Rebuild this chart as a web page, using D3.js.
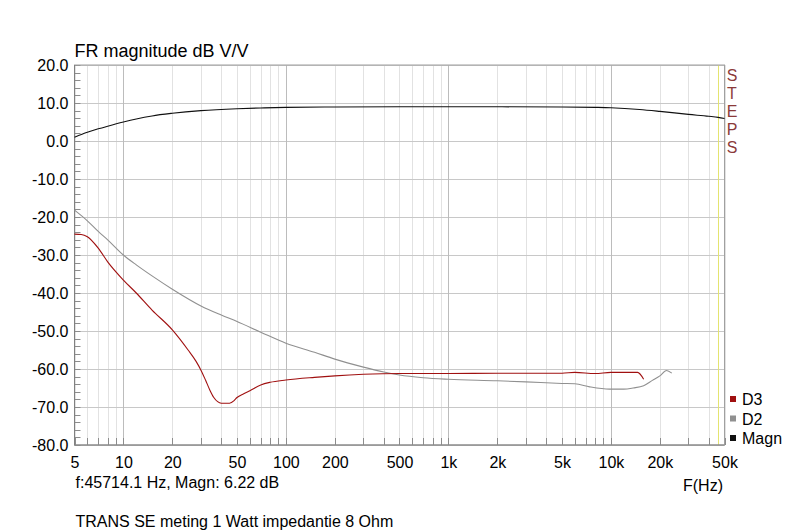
<!DOCTYPE html>
<html><head><meta charset="utf-8">
<script src="https://cdn.jsdelivr.net/npm/d3@7"></script>
<style>body{margin:0;background:#fff;} svg{display:block;font-family:"Liberation Sans",Arial,sans-serif;}</style>
</head><body><svg id="c" width="799" height="532"></svg>
<script>
const yTicks = [20,10,0,-10,-20,-30,-40,-50,-60,-70,-80];
const xTickVals = [5,10,20,50,100,200,500,1000,2000,5000,10000,20000,50000];
const xTickLabels = ["5","10","20","50","100","200","500","1k","2k","5k","10k","20k","50k"];
const magnF = [5,6,7,8,10,12,15,20,30,50,70,100,200,500,1000,2000,5000,8000,10000,15000,20000,30000,40000,45714.1,50000];
const magnV = [1.0,2.3,3.2,3.9,5.0,5.8,6.6,7.3,8.0,8.5,8.7,8.85,8.95,9.0,9.0,9.0,8.95,8.85,8.75,8.3,7.8,7.0,6.5,6.22,5.9];
const d2F = [5,6,7,8,10,12,15,20,30,40,50,70,100,150,200,300,400,500,700,1000,2000,3000,5000,6000,7400,9800,12000,13700,15900,18000,20000,22000,23700];
const d2V = [-18.2,-21.0,-23.8,-26.0,-30,-32.6,-35.5,-39,-43.4,-45.8,-47.5,-50.3,-53.2,-55.6,-57.4,-59.5,-60.8,-61.6,-62.3,-62.7,-63.1,-63.4,-63.8,-63.9,-64.7,-65.3,-65.3,-65.0,-64.4,-63.0,-61.8,-60.4,-61.1];
const d3F = [5,5.5,6,7,8,10,12,15,20,25,28,30,32,34,36,38,40,45,48,50,55,60,70,80,100,150,200,300,500,1000,2000,5000,6000,8000,10000,14600,15900];
const d3V = [-24.5,-24.6,-25.2,-28.2,-31.8,-36.6,-40,-44.5,-49.7,-55,-58,-60.3,-62.9,-65.5,-67.5,-68.6,-69,-69,-68.3,-67.5,-66.5,-65.7,-64.2,-63.5,-62.9,-62.2,-61.8,-61.4,-61.2,-61.2,-61.1,-61.1,-60.9,-61.2,-60.9,-60.9,-62.7];
const cursorF = 45714.1;
const legendNames = ["D3","D2","Magn"];
const legendColors = ["#a01010","#909090","#101010"];

const svg = d3.select("#c");
const L=74.5, R=724.5, T=65, B=445;
const x = d3.scaleLog().domain([5,50000]).range([L,R]);
const y = d3.scaleLinear().domain([-80,20]).range([B,T]);

const minor=[];
[1,10,100,1000,10000].forEach(dec=>{for(let m=1;m<10;m++){const f=m*dec; if(f>=5&&f<=50000) minor.push(f);}});
const g=svg.append("g");
g.selectAll("line.mv").data(minor.filter(f=>![10,100,1000,10000].includes(f))).enter().append("line")
 .attr("x1",d=>Math.round(x(d))+0.5).attr("x2",d=>Math.round(x(d))+0.5).attr("y1",T).attr("y2",B)
 .attr("stroke","#e2e2e2").attr("stroke-width",1);
g.selectAll("line.hg").data(yTicks).enter().append("line")
 .attr("x1",L).attr("x2",R).attr("y1",d=>Math.round(y(d))+0.5).attr("y2",d=>Math.round(y(d))+0.5)
 .attr("stroke","#c8c8c8").attr("stroke-width",1);
g.selectAll("line.dv").data([10,100,1000,10000]).enter().append("line")
 .attr("x1",d=>Math.round(x(d))+0.5).attr("x2",d=>Math.round(x(d))+0.5).attr("y1",T).attr("y2",B)
 .attr("stroke","#bcbcbc").attr("stroke-width",1);

const yMinor=d3.range(-80,21,2);
g.selectAll("line.yt").data(yMinor).enter().append("line")
 .attr("x1",L).attr("x2",L+6).attr("y1",d=>Math.round(y(d))+0.5).attr("y2",d=>Math.round(y(d))+0.5)
 .attr("stroke","#8c8c8c");
g.selectAll("line.xt").data(minor).enter().append("line")
 .attr("x1",d=>Math.round(x(d))+0.5).attr("x2",d=>Math.round(x(d))+0.5).attr("y1",B).attr("y2",B-7)
 .attr("stroke","#8c8c8c");

svg.append("line").attr("x1",Math.round(x(cursorF))+0.5).attr("x2",Math.round(x(cursorF))+0.5)
 .attr("y1",T).attr("y2",B).attr("stroke","#e4e470").attr("stroke-width",1);

svg.append("rect").attr("x",L).attr("y",T).attr("width",R-L).attr("height",B-T)
 .attr("fill","none").attr("stroke","#a0a0a0");
svg.append("line").attr("x1",L).attr("x2",L).attr("y1",T).attr("y2",B).attr("stroke","#808080");
svg.append("line").attr("x1",L).attr("x2",R).attr("y1",B).attr("y2",B).attr("stroke","#808080");

const line=d3.line().x(d=>x(d[0])).y(d=>y(d[1])).curve(d3.curveMonotoneX);
const series=[[d2F,d2V,legendColors[1]],[d3F,d3V,legendColors[0]],[magnF,magnV,legendColors[2]]];
series.forEach(s=>{
  svg.append("path").datum(s[0].map((f,i)=>[f,s[1][i]])).attr("d",line)
   .attr("fill","none").attr("stroke",s[2]).attr("stroke-width",1.1);
});

const fmt=d=>d.toFixed(1);
const yAxis=d3.axisLeft(y).tickValues(yTicks).tickFormat(fmt).tickSize(0).tickPadding(6);
const ya=svg.append("g").attr("transform",`translate(${L},0)`).call(yAxis);
ya.select(".domain").remove();
ya.selectAll("text").attr("font-size",16).attr("fill","#000").attr("font-family","Liberation Sans, Arial, sans-serif");
const xAxis=d3.axisBottom(x).tickValues(xTickVals).tickFormat((d,i)=>xTickLabels[i]).tickSize(0).tickPadding(12);
const xa=svg.append("g").attr("transform",`translate(0,${B})`).call(xAxis);
xa.select(".domain").remove();
xa.selectAll("text").attr("font-size",16).attr("fill","#000").attr("font-family","Liberation Sans, Arial, sans-serif");

svg.append("text").attr("x",L).attr("y",57).attr("font-size",18).text("FR magnitude dB V/V");
svg.append("text").attr("x",L+1).attr("y",488).attr("font-size",16).text("f:45714.1 Hz, Magn: 6.22 dB");
svg.append("text").attr("x",703).attr("y",491).attr("font-size",16).attr("text-anchor","middle").text("F(Hz)");
svg.append("text").attr("x",L+1).attr("y",527).attr("font-size",16).text("TRANS SE meting 1 Watt impedantie 8 Ohm");

const steps="STEPS".split("");
svg.selectAll("text.st").data(steps).enter().append("text")
 .attr("x",732).attr("y",(d,i)=>81+i*18).attr("text-anchor","middle").attr("font-size",16)
 .attr("fill","#8b3a3a").text(d=>d);

const lg=svg.append("g");
legendNames.forEach((n,i)=>{
  lg.append("rect").attr("x",730).attr("y",396+i*19.5).attr("width",6).attr("height",6).attr("fill",legendColors[i]);
  lg.append("text").attr("x",742).attr("y",405+i*19.5).attr("font-size",16).text(n);
});
</script></body></html>
